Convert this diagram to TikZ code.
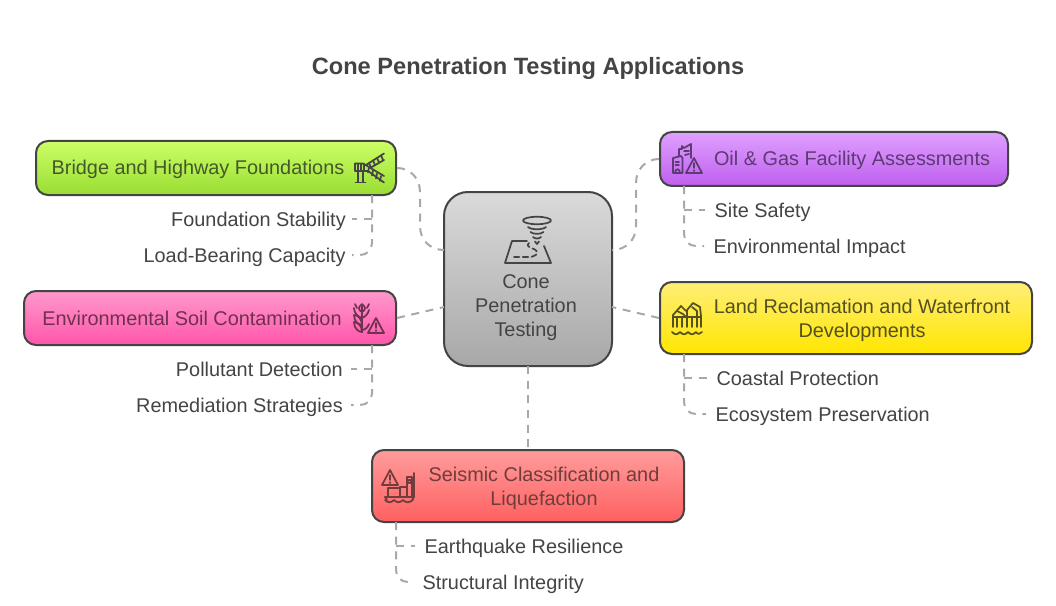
\documentclass[tikz,border=0pt]{standalone}
\usepackage{fontspec}
\setmainfont{Liberation Sans}
\definecolor{ink}{HTML}{444444}
\definecolor{edgegray}{HTML}{A8A8A8}
\definecolor{boxline}{HTML}{444444}
\definecolor{limeA}{HTML}{CCFF66}
\definecolor{limeB}{HTML}{99DD33}
\definecolor{limeT}{HTML}{44582A}
\definecolor{violA}{HTML}{DFA0FF}
\definecolor{violB}{HTML}{BF5FEF}
\definecolor{violT}{HTML}{5E3A73}
\definecolor{pinkA}{HTML}{FF99CC}
\definecolor{pinkB}{HTML}{FF55AA}
\definecolor{pinkT}{HTML}{70304F}
\definecolor{yelA}{HTML}{FFEE77}
\definecolor{yelB}{HTML}{FFE600}
\definecolor{yelT}{HTML}{55501F}
\definecolor{redA}{HTML}{FF9C9C}
\definecolor{redB}{HTML}{FF6060}
\definecolor{redT}{HTML}{703C3C}
\definecolor{grayA}{HTML}{DADADA}
\definecolor{grayB}{HTML}{A8A8A8}
\tikzset{
  box/.style={draw=boxline,line width=1.5pt,rounded corners=9pt,inner sep=0pt,anchor=center},
  txt/.style={font=\fontsize{14.9}{18}\selectfont,inner sep=0pt,align=center},
  oneline/.style={text height=13.5pt,text depth=3pt},
  sublabL/.style={font=\fontsize{14.9}{18}\selectfont,text=ink,anchor=east,inner xsep=6pt,inner ysep=0pt,oneline},
  sublabR/.style={font=\fontsize{14.9}{18}\selectfont,text=ink,anchor=west,inner xsep=7pt,inner ysep=0pt,oneline},
  conn/.style={draw=edgegray,line width=1.5pt,dash pattern=on 6pt off 5pt},
  ico/.style={line width=1.3pt,line cap=round,line join=round},
}
\newcommand{\warnicon}[3]{% apex x, apex y, colour
  \draw[ico,draw=#3] (#1,#2) -- (#1+8,#2+15) -- (#1-8,#2+15) -- cycle;
  \draw[ico,draw=#3] (#1,#2+5) -- (#1,#2+10);
  \fill[#3] (#1,#2+12.6) circle (0.9pt);
}
\begin{document}
\begin{tikzpicture}[x=0.75pt,y=-0.75pt]
\useasboundingbox (0,0) rectangle (1056,606);
\fill[white] (0,0) rectangle (1056,606);

\node[font=\bfseries\fontsize{17.7}{22}\selectfont,text=ink,inner sep=0pt] (title) at (528,68) {Cone Penetration Testing Applications};

\coordinate (cBridge) at (444,250);
\coordinate (cOil) at (612,250);
\coordinate (cEnv) at (444,307);
\coordinate (cLand) at (612,307);
\coordinate (cSeis) at (528,366);

% boxes
\node[box,minimum width=270pt,minimum height=40.5pt,top color=limeA,bottom color=limeB] (bridge) at (216,168) {};
\node[box,minimum width=261pt,minimum height=40.5pt,top color=violA,bottom color=violB] (oil) at (834,159) {};
\node[box,minimum width=279pt,minimum height=40.5pt,top color=pinkA,bottom color=pinkB] (env) at (210,318) {};
\node[box,minimum width=279pt,minimum height=54pt,top color=yelA,bottom color=yelB] (land) at (846,318) {};
\node[box,minimum width=234pt,minimum height=54pt,top color=redA,bottom color=redB] (seis) at (528,486) {};
\node[box,rounded corners=18pt,minimum width=126pt,minimum height=130.5pt,top color=grayA,bottom color=grayB] (center) at (528,279) {};

% box texts
\node[txt,oneline,text=limeT] (tBridge) at (198,168) {Bridge and Highway Foundations};
\node[txt,oneline,text=violT] (tOil) at (852,159) {Oil \& Gas Facility Assessments};
\node[txt,oneline,text=pinkT] (tEnv) at (192,318) {Environmental Soil Contamination};
\node[txt,text=yelT] (tLand) at (862,320) {Land Reclamation and Waterfront\\Developments};
\node[txt,text=redT] (tSeis) at (544,488) {Seismic Classification and\\Liquefaction};
\node[txt,text=ink] (tCenter) at (526,308) {Cone\\Penetration\\Testing};

% sub labels
\node[sublabL,inner xsep=4.5pt] (a1) at (352,219) {Foundation Stability};
\node[sublabL,inner xsep=4.5pt] (a2) at (352,255) {Load-Bearing Capacity};
\node[sublabL] (b1) at (351,369) {Pollutant Detection};
\node[sublabL] (b2) at (351,405) {Remediation Strategies};
\node[sublabR] (c1) at (705,210) {Site Safety};
\node[sublabR] (c2) at (704,246) {Environmental Impact};
\node[sublabR] (d1) at (707,378) {Coastal Protection};
\node[sublabR] (d2) at (706,414) {Ecosystem Preservation};
\node[sublabR] (e1) at (415,546) {Earthquake Resilience};
\node[sublabR] (e2) at (413,582) {Structural Integrity};

% main connectors
\draw[conn] (bridge.east) .. controls (410,168) and (420,178) .. (420,192) -- (420,226) .. controls (420,240) and (430,250) .. (cBridge);
\draw[conn] (oil.west) .. controls (646,159) and (636,169) .. (636,183) -- (636,226) .. controls (636,240) and (626,250) .. (cOil);
\draw[conn] (env.east) -- (cEnv);
\draw[conn] (land.west) -- (cLand);
\draw[conn] (cSeis) -- (seis.north);

% sub connectors
\coordinate (hA) at (372,195); \coordinate (hA1) at (372,219);
\draw[conn] (hA) -- (372,243) .. controls (372,250) and (367,255) .. (360,255) -- (a2.east);
\draw[conn] (hA1) -- (a1.east);
\coordinate (hB) at (372,345); \coordinate (hB1) at (372,369);
\draw[conn] (hB) -- (372,393) .. controls (372,400) and (367,405) .. (360,405) -- (b2.east);
\draw[conn] (hB1) -- (b1.east);
\coordinate (hC) at (684,186); \coordinate (hC1) at (684,210);
\draw[conn] (hC) -- (684,234) .. controls (684,241) and (689,246) .. (696,246) -- (c2.west);
\draw[conn] (hC1) -- (c1.west);
\coordinate (hD) at (684,354); \coordinate (hD1) at (684,378);
\draw[conn] (hD) -- (684,402) .. controls (684,409) and (689,414) .. (696,414) -- (d2.west);
\draw[conn] (hD1) -- (d1.west);
\coordinate (hE) at (396,522); \coordinate (hE1) at (396,546);
\draw[conn] (hE) -- (396,570) .. controls (396,577) and (401,582) .. (408,582) -- (e2.west);
\draw[conn] (hE1) -- (e1.west);

% --- icons ---
% centre: cone over a plot
\begin{scope}[ico,draw=ink]
  \draw (537,220.5) ellipse [x radius=10.5pt,y radius=2.8pt];
  \draw (528,227) .. controls (531,230) and (543,230) .. (546,227);
  \draw (530.5,232) .. controls (533,234.5) and (541,234.5) .. (543.5,232);
  \draw (533,237) .. controls (535,239) and (539,239) .. (541,237);
  \draw (535,241.5) -- (537,244) -- (539,241.5);
  \draw (527,241) -- (512,241) -- (505,263) -- (551,263) -- (544,246);
  \draw[dash pattern=on 4pt off 2.6pt] (514,257) -- (531,257) .. controls (541,254) and (538,250) .. (531,248) .. controls (526,246) and (528,243) .. (529,243);
\end{scope}

% bridge
\begin{scope}[ico,draw=ink]
  \draw (355,163.5) -- (363,163.5) -- (384,176);
  \draw (368,171) -- (384,182.5);
  \draw (355,163.5) -- (355,171) -- (368,171);
  \foreach \p in {358,361,364} \draw (\p,164) -- (\p,171);
  \foreach \p/\q in {369/170,373/173,377/176,381/178.5} \draw (\p,\q-2.5) -- (\p-1,\q+2.5);
  \draw (358,171) -- (358,182); \draw (363,171) -- (363,182); \draw (355.5,182.5) -- (365.5,182.5);
  \draw (366,165) -- (384,153.5); \draw (371,167.5) -- (384,160);
  \foreach \p/\q in {369/163,373/160.5,377/158,381/155.5} \draw (\p,\q) -- (\p+2,\q+4.5);
\end{scope}

% oil & gas
\begin{scope}[ico,draw=violT]
  \draw (673,173) -- (673,158) -- (681,156) -- (682.5,158) -- (682.5,173) -- cycle;
  \draw (675.5,162) -- (679,162); \draw (675.5,165) -- (679,165);
  \draw (675,173) .. controls (675,168) and (680,168) .. (680,173);
  \draw (679,156) -- (679,149) -- (682,149) -- (682,146) -- (684,148) -- (691,144) -- (691,158);
  \draw (684,151) -- (689,151); \draw (685,155) -- (689,154);
\end{scope}
\warnicon{694}{158}{violT}

% wheat + warning
\begin{scope}[ico,draw=pinkT]
  \draw (362,306) -- (362,332);
  \draw (362,312) .. controls (358,310) and (358,307) .. (362,304) .. controls (366,307) and (366,310) .. (362,312);
  \draw (362,318) .. controls (358,317) and (354,313) .. (354,308);
  \draw (362,318) .. controls (365,317) and (368,314) .. (369,310);
  \draw (362,325) .. controls (358,325) and (354,321) .. (354,315) .. controls (358,315) and (362,319) .. (362,325);
  \draw (362,332) .. controls (358,332) and (354,328) .. (354,322) .. controls (358,322) and (362,326) .. (362,332);
  \draw (362,330) .. controls (365,330) and (368,327) .. (369,324);
  \draw (355,304) -- (357,308); \draw (369,304) -- (367,308);
\end{scope}
\warnicon{376}{318}{pinkT}

% land reclamation
\begin{scope}[ico,draw=yelT]
  \draw (673,327) -- (673,315) -- (681,306) -- (686,311);
  \draw (677,311) -- (683,314) -- (686,317);
  \draw (673,317) -- (686,317);
  \draw (677,317) -- (677,327); \draw (682,317) -- (682,327);
  \draw (687,327) -- (687,310) -- (693,303) -- (700,307) -- (701,316) -- (701,327);
  \draw (687,317) -- (701,317);
  \draw (692,307) -- (697,311) -- (697,317);
  \draw (692,317) -- (692,327); \draw (697,317) -- (697,327);
  \draw (672,332) .. controls (675,335) and (677,335) .. (680,332) .. controls (683,335) and (685,335) .. (688,332) .. controls (691,335) and (693,335) .. (696,332) .. controls (698,335) and (700,334) .. (702,332);
\end{scope}

% seismic
\warnicon{390}{470}{redT}
\begin{scope}[ico,draw=redT]
  \draw (385,497) -- (414,497) -- (412,500);
  \draw (385,497) -- (387,500);
  \draw (388,497) -- (388,488) -- (400,488) -- (400,497);
  \draw (400,492) -- (400,487) -- (407,487) -- (407,497);
  \draw (407,477) -- (412,477) -- (412,497); \draw (407,477) -- (407,487);
  \draw (408.5,480) rectangle (411,483);
  \draw (414,473) -- (414,497);
  \draw (385,500) .. controls (388,503) and (391,503) .. (394,500) .. controls (397,503) and (400,503) .. (403,500) .. controls (406,503) and (409,503) .. (413,500);
\end{scope}
\end{tikzpicture}
\end{document}
